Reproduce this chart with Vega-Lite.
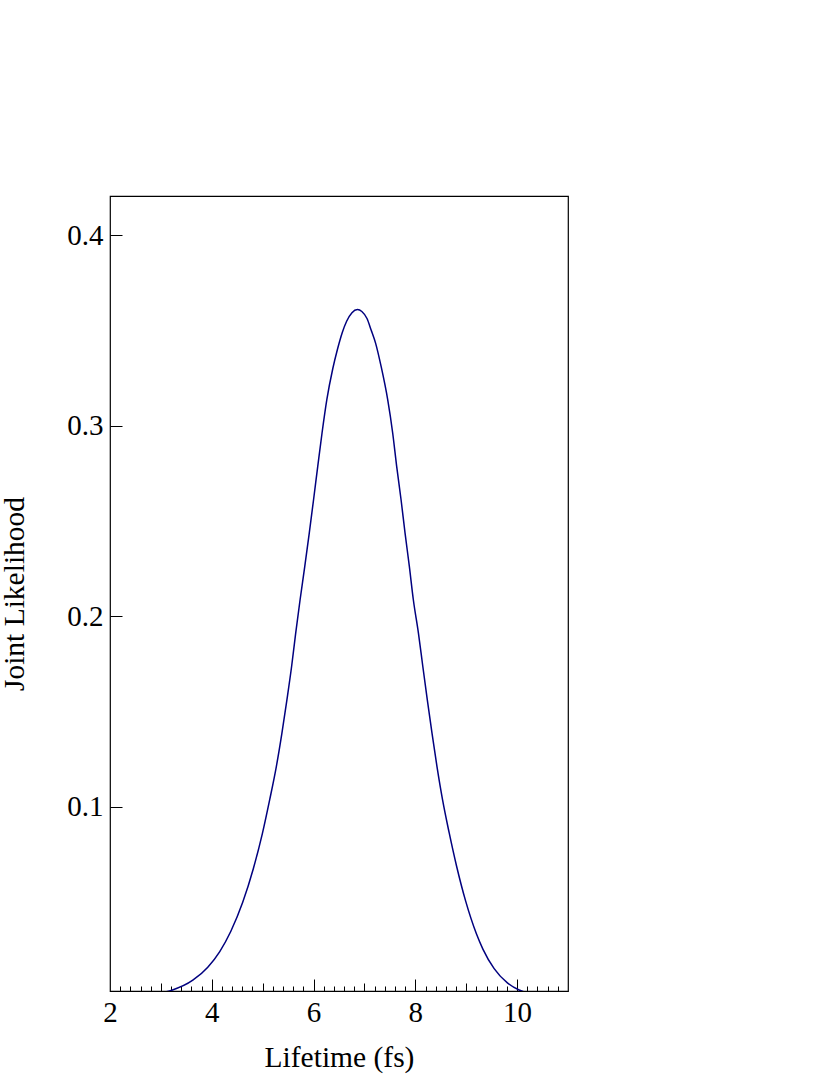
{
  "$schema": "https://vega.github.io/schema/vega-lite/v6.json",
  "width": 458,
  "height": 795,
  "autosize": "none",
  "padding": {"left": 110, "top": 196, "right": 262, "bottom": 84},
  "background": "white",
  "config": {
    "view": {"stroke": "black", "strokeWidth": 1.2},
    "font": "Liberation Serif",
    "axis": {"labelFont": "Liberation Serif", "titleFont": "Liberation Serif", "labelFontSize": 29, "titleFontSize": 29.5, "titleFontWeight": "normal", "labelColor": "black", "titleColor": "black", "tickColor": "black", "domain": false, "grid": false}
  },
  "data": {"values": [
    {"t": 3.05, "L": 0.00264},
    {"t": 3.2157, "L": 0.00383},
    {"t": 3.6275, "L": 0.00905},
    {"t": 3.9216, "L": 0.0159},
    {"t": 4.1569, "L": 0.0241},
    {"t": 4.3725, "L": 0.0346},
    {"t": 4.6078, "L": 0.0499},
    {"t": 4.8176, "L": 0.0677},
    {"t": 4.9941, "L": 0.0860},
    {"t": 5.1373, "L": 0.10367},
    {"t": 5.2686, "L": 0.12115},
    {"t": 5.3784, "L": 0.13869},
    {"t": 5.4765, "L": 0.15617},
    {"t": 5.5686, "L": 0.17365},
    {"t": 5.6490, "L": 0.19118},
    {"t": 5.7353, "L": 0.20866},
    {"t": 5.8275, "L": 0.22614},
    {"t": 5.9157, "L": 0.24367},
    {"t": 6.0, "L": 0.26115},
    {"t": 6.0824, "L": 0.27864},
    {"t": 6.1667, "L": 0.29617},
    {"t": 6.2608, "L": 0.31365},
    {"t": 6.3784, "L": 0.3300},
    {"t": 6.47, "L": 0.3401},
    {"t": 6.5647, "L": 0.3489},
    {"t": 6.65, "L": 0.3548},
    {"t": 6.7549, "L": 0.3593},
    {"t": 6.8627, "L": 0.3609},
    {"t": 6.9490, "L": 0.3599},
    {"t": 7.05, "L": 0.3562},
    {"t": 7.1314, "L": 0.3502},
    {"t": 7.22, "L": 0.3432},
    {"t": 7.3275, "L": 0.3311},
    {"t": 7.4569, "L": 0.31365},
    {"t": 7.5549, "L": 0.29617},
    {"t": 7.6333, "L": 0.27864},
    {"t": 7.7196, "L": 0.26115},
    {"t": 7.7980, "L": 0.24367},
    {"t": 7.8824, "L": 0.22614},
    {"t": 7.9608, "L": 0.20866},
    {"t": 8.0608, "L": 0.19118},
    {"t": 8.1471, "L": 0.17365},
    {"t": 8.2353, "L": 0.15617},
    {"t": 8.3275, "L": 0.13869},
    {"t": 8.4255, "L": 0.12115},
    {"t": 8.5353, "L": 0.10367},
    {"t": 8.6667, "L": 0.0862},
    {"t": 8.8098, "L": 0.0690},
    {"t": 8.9863, "L": 0.0508},
    {"t": 9.2020, "L": 0.0333},
    {"t": 9.3275, "L": 0.0254},
    {"t": 9.5490, "L": 0.01513},
    {"t": 9.8039, "L": 0.00777},
    {"t": 10.0392, "L": 0.00394},
    {"t": 10.2, "L": 0.0024}
  ]},
  "resolve": {"axis": {"x": "independent", "y": "independent"}},
  "layer": [
    {
      "mark": {"type": "line", "color": "#00007f", "strokeWidth": 1.5, "clip": true, "interpolate": "monotone"},
      "encoding": {
        "x": {"field": "t", "type": "quantitative", "scale": {"domain": [2, 11], "nice": false, "zero": false},
          "axis": {"orient": "bottom", "title": "Lifetime (fs)", "values": [2, 4, 6, 8, 10], "ticks": false, "labelPadding": 7, "titlePadding": 16, "labelFlush": false}},
        "y": {"field": "L", "type": "quantitative", "scale": {"domain": [0.0034, 0.4205], "nice": false, "zero": false},
          "axis": {"orient": "left", "title": "Joint Likelihood", "values": [0.1, 0.2, 0.3, 0.4], "format": ".1f", "ticks": false, "labelPadding": 7, "titlePadding": 37}}
      }
    },
    {
      "mark": {"type": "line", "strokeOpacity": 0, "clip": true},
      "encoding": {
        "x": {"field": "t", "type": "quantitative", "scale": {"domain": [2, 11], "nice": false, "zero": false},
          "axis": {"orient": "bottom", "title": null, "labels": false, "tickSize": -5, "tickWidth": 1,
            "values": [2.2,2.4,2.6,2.8,3.2,3.4,3.6,3.8,4.2,4.4,4.6,4.8,5.2,5.4,5.6,5.8,6.2,6.4,6.6,6.8,7.2,7.4,7.6,7.8,8.2,8.4,8.6,8.8,9.2,9.4,9.6,9.8,10.2,10.4,10.6,10.8]}},
        "y": {"field": "L", "type": "quantitative", "scale": {"domain": [0.0034, 0.4205], "nice": false, "zero": false},
          "axis": {"orient": "left", "title": null, "labels": false, "tickSize": -12, "tickWidth": 1, "values": [0.1, 0.2, 0.3, 0.4]}}
      }
    },
    {
      "mark": {"type": "line", "strokeOpacity": 0, "clip": true},
      "encoding": {
        "x": {"field": "t", "type": "quantitative", "scale": {"domain": [2, 11], "nice": false, "zero": false},
          "axis": {"orient": "bottom", "title": null, "labels": false, "tickSize": -8, "tickWidth": 1, "values": [3, 5, 7, 9]}},
        "y": {"field": "L", "type": "quantitative", "scale": {"domain": [0.0034, 0.4205], "nice": false, "zero": false}, "axis": null}
      }
    },
    {
      "mark": {"type": "line", "strokeOpacity": 0, "clip": true},
      "encoding": {
        "x": {"field": "t", "type": "quantitative", "scale": {"domain": [2, 11], "nice": false, "zero": false},
          "axis": {"orient": "bottom", "title": null, "labels": false, "tickSize": -12, "tickWidth": 1, "values": [4, 6, 8, 10]}},
        "y": {"field": "L", "type": "quantitative", "scale": {"domain": [0.0034, 0.4205], "nice": false, "zero": false}, "axis": null}
      }
    }
  ]
}
